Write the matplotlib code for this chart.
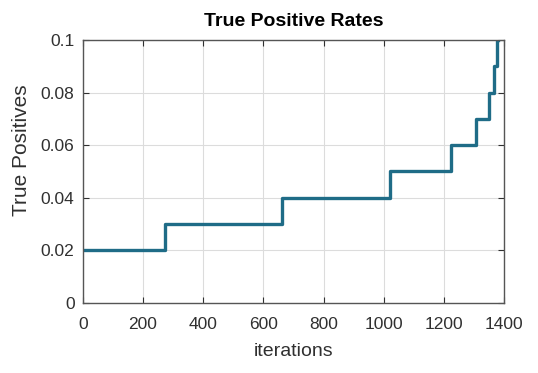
import numpy as np
import matplotlib.pyplot as plt

plt.rcParams['font.family'] = ['Liberation Sans', 'DejaVu Sans']

# step positions (iteration where the rate jumps) and the rate levels
step_iters = [0, 274, 662, 1021, 1225, 1306, 1349, 1368, 1376, 1380]
rates = [0.02, 0.03, 0.04, 0.05, 0.06, 0.07, 0.08, 0.09, 0.1, 0.1]

x_ticks = [0, 200, 400, 600, 800, 1000, 1200, 1400]
y_ticks = [0, 0.02, 0.04, 0.06, 0.08, 0.1]
y_ticklabels = ['0', '0.02', '0.04', '0.06', '0.08', '0.1']

fig = plt.figure(figsize=(5.38, 3.73), dpi=100)
ax = fig.add_axes([0.154, 0.188, 0.783, 0.705])

ax.step(step_iters, rates, where='post', color='#1f6c87', linewidth=2.4)

ax.set_xlim(0, 1400)
ax.set_ylim(0, 0.1)
ax.set_xticks(x_ticks)
ax.set_yticks(y_ticks)
ax.set_yticklabels(y_ticklabels)
ax.grid(True, color='#dcdcdc', linewidth=0.8)
ax.set_axisbelow(True)

ax.tick_params(direction='in', top=True, right=True, labelsize=12.5,
               colors='#303030', length=4)
ax.tick_params(axis='x', pad=10)
ax.tick_params(axis='y', pad=6)
for s in ax.spines.values():
    s.set_color('#555555')
    s.set_linewidth(1.0)

ax.set_title('True Positive Rates', fontsize=14, fontweight='bold', pad=10)
ax.set_xlabel('iterations', fontsize=14, color='#303030', labelpad=8)
ax.set_ylabel('True Positives', fontsize=15, color='#303030')
ax.yaxis.set_label_coords(-0.122, 0.58)

fig.savefig('out.png', dpi=100)
